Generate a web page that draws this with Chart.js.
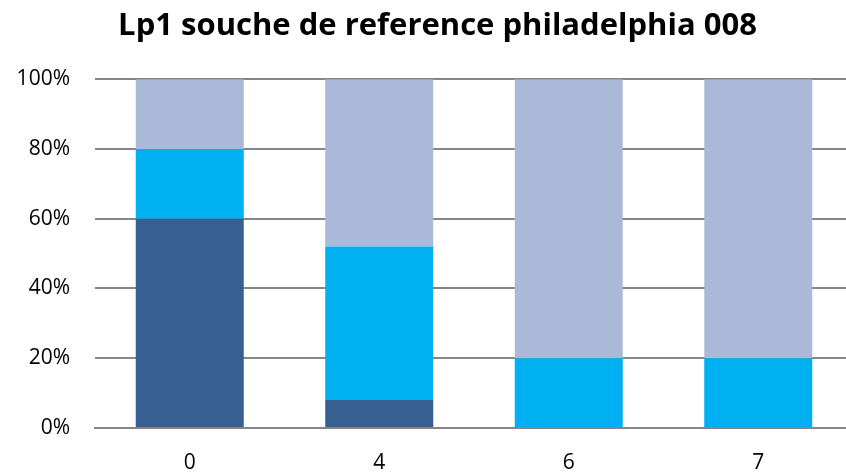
<!DOCTYPE html>
<html>
<head>
<meta charset="utf-8">
<script src="https://cdn.jsdelivr.net/npm/chart.js@4"></script>
<style>
html,body{margin:0;padding:0;overflow:hidden;background:#fff;}
#wrap{width:875px;height:475px;}
</style>
</head>
<body>
<div id="wrap"><canvas id="c" width="875" height="475"></canvas></div>
<script>
const categories = ["0", "4", "6", "7"];
const seriesDark = [60, 8, 0, 0];
const seriesCyan = [20, 44, 20, 20];
const seriesLight = [20, 48, 80, 80];
const yTicks = [0, 20, 40, 60, 80, 100];
const titleText = "Lp1 souche de reference philadelphia 008";

const ctx = document.getElementById('c').getContext('2d');
new Chart(ctx, {
  type: 'bar',
  data: {
    labels: categories,
    datasets: [
      {label: 'A', data: seriesDark, backgroundColor: '#376092'},
      {label: 'B', data: seriesCyan, backgroundColor: '#00B0F0'},
      {label: 'C', data: seriesLight, backgroundColor: '#AAB9D7'}
    ]
  },
  options: {
    responsive: false,
    animation: false,
    layout: {padding: 0},
    datasets: {bar: {barPercentage: 0.57, categoryPercentage: 1.0, borderWidth: 0}},
    plugins: {
      legend: {display: false},
      tooltip: {enabled: false},
      title: {
        display: true,
        text: titleText,
        color: '#000',
        font: {family: 'Open Sans', size: 31, weight: 'bold', lineHeight: 1.2},
        padding: {top: 8, bottom: 34}
      }
    },
    scales: {
      x: {
        stacked: true,
        grid: {display: false, drawTicks: false},
        border: {display: true, color: '#868686', width: 2},
        ticks: {color: '#000', font: {family: 'Open Sans', size: 21}, padding: 22},
        afterFit: s => { s.height = 47; }
      },
      y: {
        stacked: true,
        min: 0, max: 100,
        afterBuildTicks: s => { s.ticks = yTicks.map(v => ({value: v})); },
        grid: {color: '#868686', lineWidth: 2, drawTicks: false},
        border: {display: false},
        ticks: {color: '#000', font: {family: 'Open Sans', size: 21}, padding: 25,
                callback: v => v + '%'},
        afterFit: s => { s.width = 95; }
      },
      yR: {
        position: 'right',
        display: true,
        min: 0, max: 100,
        grid: {display: false, drawTicks: false},
        border: {display: false},
        ticks: {display: false},
        afterFit: s => { s.width = 22; }
      }
    }
  }
});
</script>
</body>
</html>
